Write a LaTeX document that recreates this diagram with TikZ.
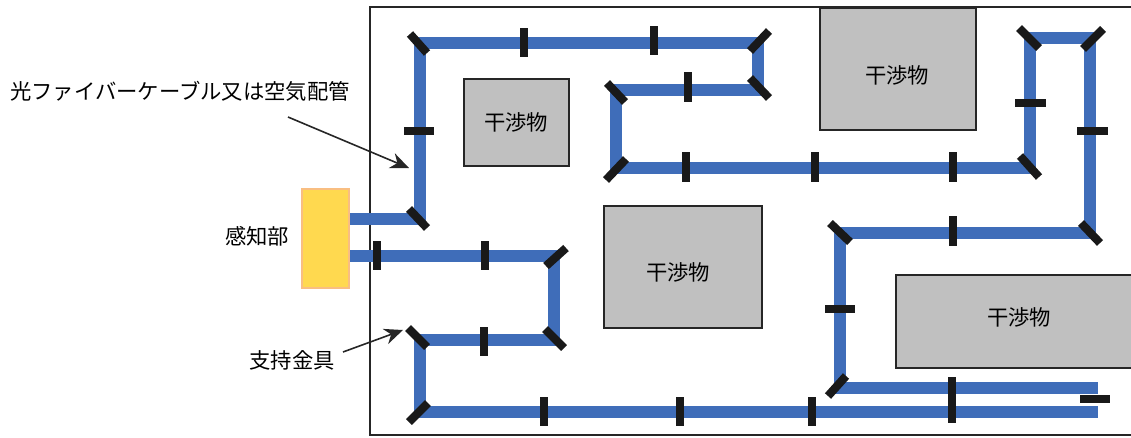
\documentclass[tikz,border=0pt]{standalone}
\usepackage{fontspec}
\setmainfont{Noto Sans CJK JP}
\usetikzlibrary{arrows.meta}
\definecolor{pipeblue}{HTML}{3F6DB9}
\definecolor{obstaclegray}{HTML}{C0C0C0}
\definecolor{sensoryellow}{HTML}{FFD94F}
\definecolor{sensoredge}{HTML}{F9BE82}
\begin{document}
\begin{tikzpicture}[x=0.75pt,y=-0.75pt,
    font=\fontsize{16}{18}\selectfont,
    frameline/.style={line width=2pt,color=black!85},
    obstacle/.style={draw=black!85,fill=obstaclegray,line width=2pt},
    pipe/.style={line width=8.4pt,color=pipeblue,line join=miter},
    bracket/.style={line width=6.4pt,color=black!90},
    mirror/.style={line width=6.2pt,color=black!90},
    leader/.style={line width=1.2pt,color=black!85,-{Stealth[length=14pt,width=12pt]}}]
  \useasboundingbox (0,0) rectangle (1131,437);
  \draw[frameline] (1131,7) -- (370,7) -- (370,435) -- (1131,435);
  \draw[obstacle] (464,79) rectangle (569,166);
  \draw[obstacle] (820,8) rectangle (976,130);
  \draw[obstacle] (604,206) rectangle (762,328);
  \draw[obstacle] (1131,275) -- (896,275) -- (896,368) -- (1131,368);
  \node (obstaclea) at (516,122) {干渉物};
  \node (obstacleb) at (897,75) {干渉物};
  \node (obstaclec) at (678,272) {干渉物};
  \node (obstacled) at (1019,317) {干渉物};
  \draw[pipe] (350,219) -- (420,219) -- (420,43) -- (758,43) -- (758,90) -- (616,90)
    -- (616,168) -- (1030,168) -- (1030,38) -- (1090,38) -- (1090,233) -- (840,233)
    -- (840,388) -- (1098,388);
  \draw[pipe] (350,256) -- (554,256) -- (554,340) -- (420,340) -- (420,412) -- (1098,412);
  \draw[fill=sensoryellow,draw=sensoredge,line width=1pt] (302,189) rectangle (349,288);
  \draw[mirror] (410,34) -- (427,53);
  \draw[mirror] (409,209) -- (427,228);
  \draw[mirror] (546,266) -- (566,248);
  \draw[mirror] (545,329) -- (564,348);
  \draw[mirror] (408,328) -- (427,347);
  \draw[mirror] (409,422) -- (428,403);
  \draw[mirror] (750,51) -- (769,31);
  \draw[mirror] (750,78) -- (769,98);
  \draw[mirror] (607,83) -- (625,102);
  \draw[mirror] (606,180) -- (626,159);
  \draw[mirror] (1019,28) -- (1039,48);
  \draw[mirror] (1083,49) -- (1103,29);
  \draw[mirror] (1020,156) -- (1039,177);
  \draw[mirror] (1081,223) -- (1100,243);
  \draw[mirror] (830,223) -- (850,242);
  \draw[mirror] (828,396) -- (846,376);
  \draw[bracket] (524,28) -- (524,57);
  \draw[bracket] (654,26) -- (654,55);
  \draw[bracket] (688,72) -- (688,102);
  \draw[bracket] (686,152) -- (686,182);
  \draw[bracket] (815,152) -- (815,182);
  \draw[bracket] (953,152) -- (953,182);
  \draw[bracket] (953,216) -- (953,246);
  \draw[bracket] (377,241) -- (377,270);
  \draw[bracket] (485,241) -- (485,270);
  \draw[bracket] (484,327) -- (484,356);
  \draw[bracket] (544,397) -- (544,426);
  \draw[bracket] (680,397) -- (680,426);
  \draw[bracket] (812,397) -- (812,426);
  \draw[bracket] (952,377) -- (952,423);
  \draw[bracket] (404,131) -- (434,131);
  \draw[bracket] (1015,103) -- (1046,103);
  \draw[bracket] (1077,131) -- (1108,131);
  \draw[bracket] (825,309) -- (855,309);
  \draw[bracket] (1080,399) -- (1110,399);
  \node (fibrelabel) at (180,91) {光ファイバーケーブル又は空気配管};
  \node (sensorlabel) at (257,236) {感知部};
  \node (bracketlabel) at (292,360) {支持金具};
  \coordinate (fibrefrom) at (288,117);
  \coordinate (fibreto) at (409,168);
  \coordinate (bracketfrom) at (343,352);
  \coordinate (bracketto) at (403,330);
  \draw[leader] (fibrefrom) -- (fibreto);
  \draw[leader] (bracketfrom) -- (bracketto);
\end{tikzpicture}
\end{document}
